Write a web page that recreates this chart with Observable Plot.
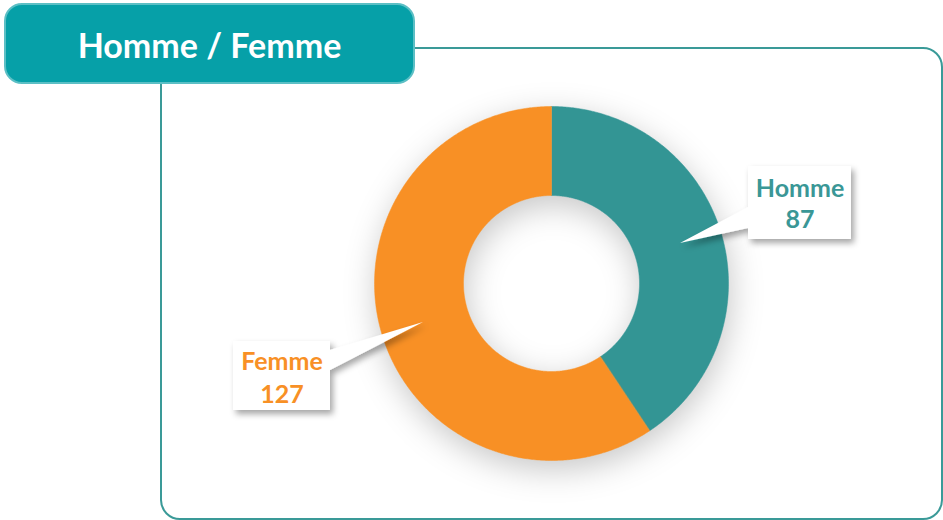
<!DOCTYPE html>
<html>
<head>
<meta charset="utf-8">
<script src="https://cdn.jsdelivr.net/npm/d3@7"></script>
<script src="https://cdn.jsdelivr.net/npm/@observablehq/plot@0.6"></script>
<style>
  html, body { margin: 0; padding: 0; background: #fff; }
  #wrap { position: relative; width: 943px; height: 520px; overflow: hidden; font-family: Lato, "Open Sans", sans-serif; }
  #frame { position: absolute; left: 160px; top: 47px; width: 779px; height: 469px; border: 2px solid #3a9a98; border-radius: 20px; }
  #title { position: absolute; left: 4px; top: 3px; width: 407px; height: 76px; background: #06a0a8; border: 2px solid #5cbfc5; border-radius: 18px;
           color: #fff; font-weight: 700; font-size: 34px; display: flex; align-items: center; justify-content: center; box-sizing: content-box; padding-top: 1px; }
  #chart { position: absolute; left: 0; top: 0; }
  #chart svg g[aria-label="line"] { filter: drop-shadow(2px 9px 16px rgba(0,0,0,0.22)); }
  #callouts { position: absolute; left: 0; top: 0; }
</style>
</head>
<body>
<div id="wrap">
  <div id="frame"></div>
  <div id="chart"></div>
  <svg id="callouts" width="943" height="520"></svg>
  <div id="title">Homme / Femme</div>
</div>
<script>
const categories = ["Homme", "Femme"];
const values = [87, 127];
const colors = ["#339594", "#F89025"];
const labelColors = ["#3a9796", "#F89025"];

const W = 943, H = 520;
const cx = 551, cy = 283, R = 177, r = 88;

const arcs = d3.pie().sort(null).value(d => d)(values);
const points = [];
arcs.forEach((a, i) => {
  const n = Math.max(8, Math.ceil((a.endAngle - a.startAngle) / (Math.PI / 360)));
  for (let k = 0; k <= n; k++) {
    const t = a.startAngle + (a.endAngle - a.startAngle) * k / n;
    points.push({cat: categories[i], x: Math.sin(t), y: Math.cos(t)});
  }
  for (let k = n; k >= 0; k--) {
    const t = a.startAngle + (a.endAngle - a.startAngle) * k / n;
    points.push({cat: categories[i], x: (r / R) * Math.sin(t), y: (r / R) * Math.cos(t)});
  }
});

const chart = Plot.plot({
  width: W, height: H, margin: 0,
  style: {background: "transparent", overflow: "visible"},
  x: {domain: [-cx / R, (W - cx) / R], axis: null},
  y: {domain: [-(H - cy) / R, cy / R], axis: null},
  color: {domain: categories, range: colors},
  marks: [
    Plot.line(points, {x: "x", y: "y", z: "cat", fill: "cat", stroke: "cat", strokeWidth: 0.5, curve: "linear-closed"})
  ]
});
document.getElementById("chart").appendChild(chart);

// Callouts
const svg = d3.select("#callouts");
const defs = svg.append("defs");
const f = defs.append("filter").attr("id", "sh").attr("x", "-20%").attr("y", "-20%").attr("width", "150%").attr("height", "150%");
f.append("feDropShadow").attr("dx", 3).attr("dy", 4).attr("stdDeviation", 3).attr("flood-color", "#000").attr("flood-opacity", 0.35);

const callouts = [
  {box: [748, 166, 851, 239], ptr: [[748, 207], [680, 243], [748, 228]], side: "left", tx: 800, ty: [197, 228]},
  {box: [233, 341, 330, 410], ptr: [[330, 350], [423, 322], [330, 370]], side: "right", tx: 282, ty: [370, 403]}
];
callouts.forEach((c, i) => {
  const [x0, y0, x1, y1] = c.box;
  let d;
  if (c.side === "left") {
    d = `M${x0},${y0} L${x1},${y0} L${x1},${y1} L${x0},${y1} L${c.ptr[2][0]},${c.ptr[2][1]} L${c.ptr[1][0]},${c.ptr[1][1]} L${c.ptr[0][0]},${c.ptr[0][1]} Z`;
  } else {
    d = `M${x0},${y0} L${x1},${y0} L${c.ptr[0][0]},${c.ptr[0][1]} L${c.ptr[1][0]},${c.ptr[1][1]} L${c.ptr[2][0]},${c.ptr[2][1]} L${x1},${y1} L${x0},${y1} Z`;
  }
  svg.append("path").attr("d", d).attr("fill", "#fff").attr("filter", "url(#sh)");
  const lines = [categories[i], String(values[i])];
  lines.forEach((t, j) => {
    svg.append("text").attr("x", c.tx).attr("y", c.ty[j]).attr("text-anchor", "middle")
      .attr("fill", labelColors[i]).attr("font-family", "Lato, 'Open Sans', sans-serif")
      .attr("font-weight", 700).attr("font-size", 25).text(t);
  });
});
</script>
</body>
</html>
